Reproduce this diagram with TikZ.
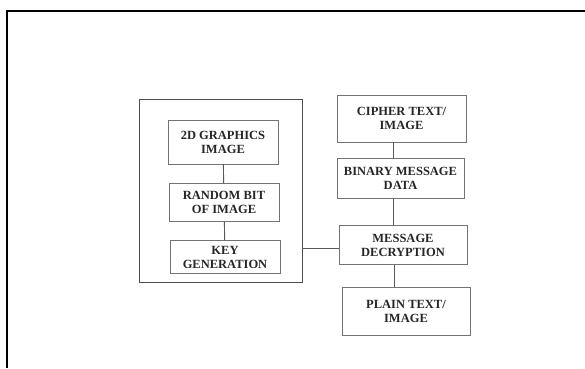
\documentclass[tikz,border=0pt]{standalone}
\usepackage{fontspec}
\setmainfont{Liberation Serif}
\usepackage{tikz}
\usetikzlibrary{positioning}

\begin{document}
\begin{tikzpicture}[x=1pt, y=-1pt, every node/.style={font=\fontsize{12.5}{14}\selectfont\bfseries, text=black!85, align=center},
    blk/.style={draw=black!55, line width=0.8pt, inner sep=0pt}]
    % Canvas and page frame
    \useasboundingbox (0,0) rectangle (585,368);
    \draw[line width=1.6pt] (7,368) -- (7,11) -- (586,11);

    % Key side
    \node[draw=black!70, line width=0.9pt, minimum width=163pt, minimum height=183pt] (sender) at (220.5,190.5) {};
    \node[blk, minimum width=110pt, minimum height=44pt] (gfx) at (223,142) {2D GRAPHICS\\IMAGE};
    \node[blk, below=19pt of gfx, xshift=1pt, minimum width=110pt, minimum height=38pt] (randbit) {RANDOM BIT\\OF IMAGE};
    \node[blk, below=18pt of randbit, xshift=1pt, minimum width=110pt, minimum height=33pt] (keygen) {KEY\\GENERATION};

    % Message side
    \node[blk, minimum width=129pt, minimum height=47pt] (cipher) at (401.5,118.5) {CIPHER TEXT/\\IMAGE};
    \node[blk, below=16pt of cipher, xshift=-1pt, minimum width=127pt, minimum height=40pt] (binary) {BINARY MESSAGE\\DATA};
    \node[blk, below=26pt of binary, xshift=2.5pt, minimum width=128pt, minimum height=39pt] (decrypt) {MESSAGE\\DECRYPTION};
    \node[blk, below=22pt of decrypt, xshift=3pt, minimum width=128pt, minimum height=48pt] (plain) {PLAIN TEXT/\\IMAGE};

    % Connectors
    \draw[black!65, line width=0.9pt] (gfx) -- (randbit);
    \draw[black!65, line width=0.9pt] (randbit) -- (keygen);
    \draw[black!65, line width=0.9pt] ([xshift=-8pt]cipher.south) -- ([xshift=-8pt]cipher.south |- binary.north);
    \draw[black!65, line width=0.9pt] ([xshift=-7pt]binary.south) -- ([xshift=-7pt]binary.south |- decrypt.north);
    \draw[black!65, line width=0.9pt] ([xshift=-9pt]decrypt.south) -- ([xshift=-9pt]decrypt.south |- plain.north);
    \draw[black!65, line width=0.9pt] ([yshift=-3pt]decrypt.west) -- ([yshift=-3pt]decrypt.west -| sender.east);
\end{tikzpicture}
\end{document}
